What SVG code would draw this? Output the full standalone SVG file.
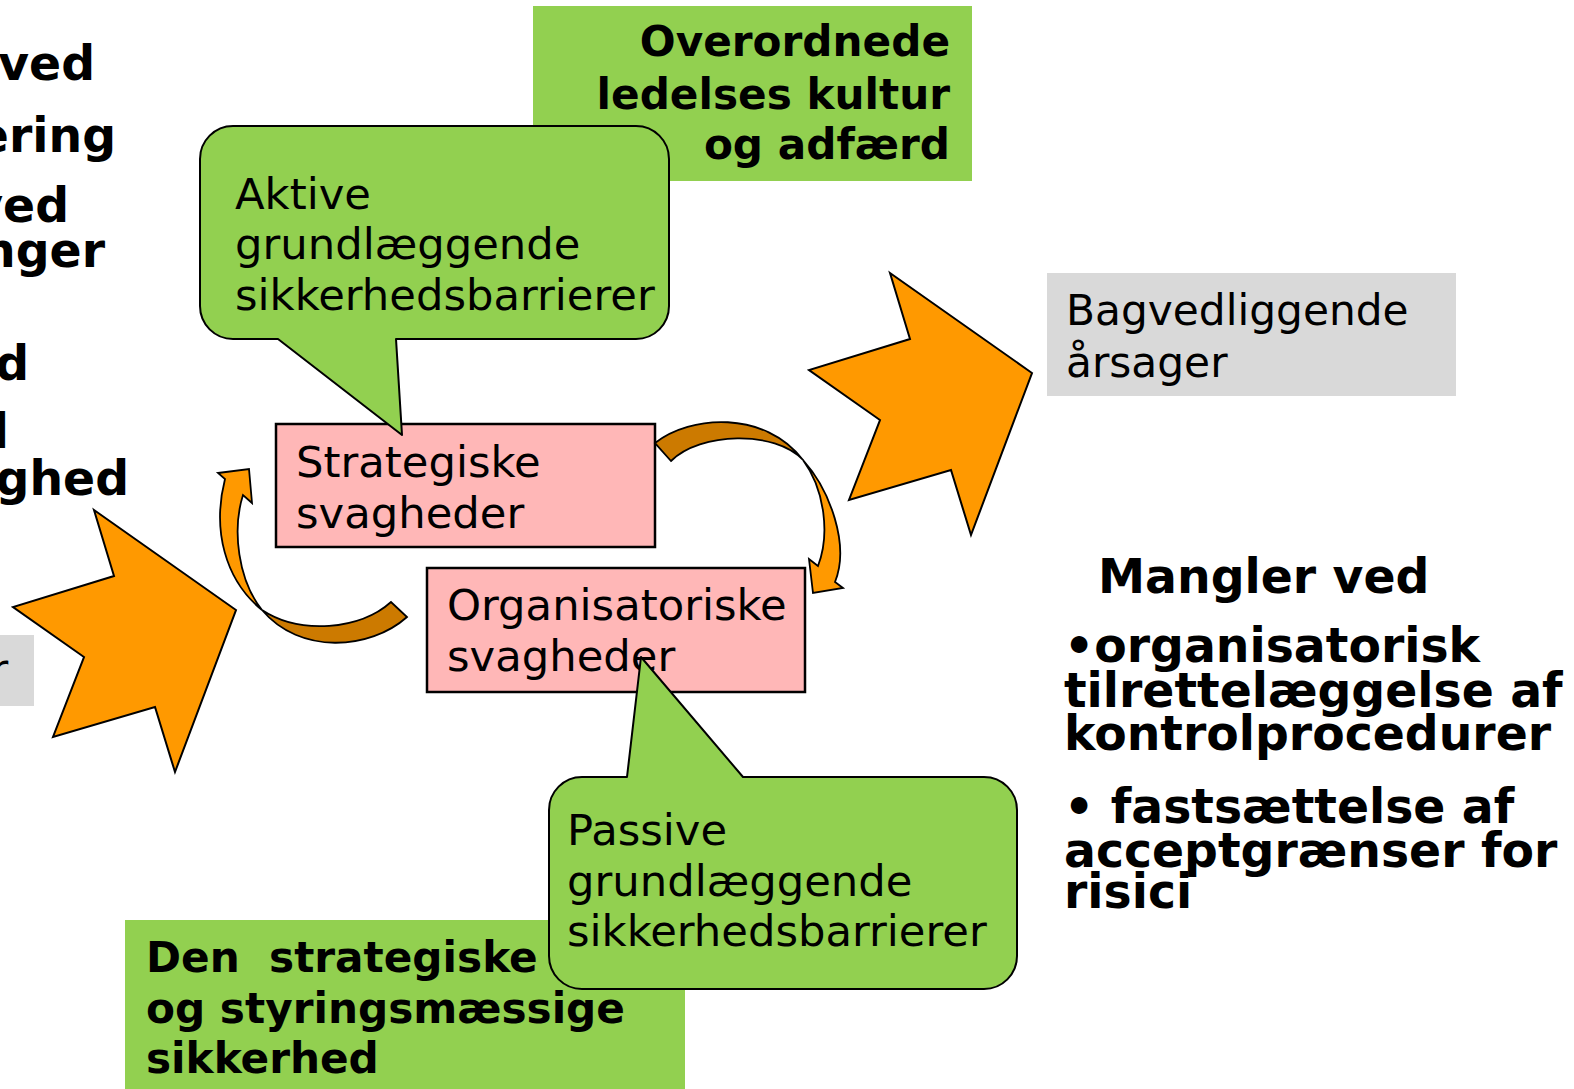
<svg xmlns="http://www.w3.org/2000/svg" width="1574" height="1089" viewBox="0 0 1574 1089">
  <style>
    text { font-family: "DejaVu Sans", Verdana, sans-serif; fill: #000; }
    .reg { font-size: 43.3px; }
    .bold { font-size: 42.2px; font-weight: bold; }
    .side { font-size: 47.3px; font-weight: bold; }
    .green { fill: #92D050; }
    .grey { fill: #D9D9D9; }
    .callout { fill: #92D050; stroke: #000; stroke-width: 2; stroke-linejoin: round; }
    .weak { fill: #FFB7B7; stroke: #000; stroke-width: 2.5; }
    .star { fill: #FF9900; stroke: #000; stroke-width: 2; stroke-linejoin: miter; }
    .bend-front { fill: #FF9900; stroke: #000; stroke-width: 1.8; stroke-linejoin: miter; }
    .bend-back { fill: #CC7A00; stroke: #000; stroke-width: 1.8; stroke-linejoin: miter; }
  </style>
  <defs>
    <!-- jagged block arrow, top corner at origin, pointing down-right -->
    <polygon id="burst" points="0,0 142,100 81,262 61,197 -41,227 -10,147 -81,97 20,66"/>
  </defs>

  <rect width="1574" height="1089" fill="#fff"/>

  <!-- text running off the left edge -->
  <g id="left-text" class="side" text-anchor="end">
    <text x="95" y="80" class="side">ved</text>
    <text x="116" y="152" class="side">ering</text>
    <text x="69" y="222" class="side">ved</text>
    <text x="105" y="267" class="side">nger</text>
    <text x="29" y="380" class="side">d</text>
    <text x="9" y="448" class="side">l</text>
    <text x="129" y="495" class="side">ghed</text>
  </g>

  <g id="left-causes">
    <rect class="grey" x="-2" y="635" width="36" height="71"/>
    <text x="-9" y="684" style="font-size:42px">r</text>
  </g>

  <g id="culture">
    <rect class="green" x="533" y="6" width="439" height="175"/>
    <g class="bold" text-anchor="end">
      <text x="950" y="56" class="bold">Overordnede</text>
      <text x="950" y="109" class="bold">ledelses kultur</text>
      <text x="950" y="159" class="bold">og adfærd</text>
    </g>
  </g>

  <g id="strategic-security">
    <rect class="green" x="125" y="920" width="560" height="175"/>
    <text x="146" y="972" class="bold" xml:space="preserve" style="white-space:pre">Den  strategiske</text>
    <text x="146" y="1023" class="bold">og styringsmæssige</text>
    <text x="146" y="1073" class="bold">sikkerhed</text>
  </g>

  <g id="strategic-weakness">
    <rect class="weak" x="276" y="424" width="379" height="123"/>
    <text x="296" y="477" class="reg">Strategiske</text>
    <text x="296" y="528" class="reg">svagheder</text>
  </g>

  <g id="org-weakness">
    <rect class="weak" x="427" y="568" width="378" height="124"/>
    <text x="447" y="620" class="reg">Organisatoriske</text>
    <text x="447" y="671" class="reg">svagheder</text>
  </g>

  <g id="active-barriers">
    <path class="callout" d="M233,126 H636 A33,33 0 0 1 669,159 V306 A33,33 0 0 1 636,339 H396 L402,435 L278,339 H233 A33,33 0 0 1 200,306 V159 A33,33 0 0 1 233,126 Z"/>
    <text x="235" y="209" class="reg">Aktive</text>
    <text x="235" y="259" class="reg">grundlæggende</text>
    <text x="235" y="310" class="reg">sikkerhedsbarrierer</text>
  </g>

  <g id="passive-barriers">
    <path class="callout" d="M582,777 H627 L641,657 L743,777 H984 A33,33 0 0 1 1017,810 V956 A33,33 0 0 1 984,989 H582 A33,33 0 0 1 549,956 V810 A33,33 0 0 1 582,777 Z"/>
    <text x="567" y="845" class="reg">Passive</text>
    <text x="567" y="896" class="reg">grundlæggende</text>
    <text x="567" y="946" class="reg">sikkerhedsbarrierer</text>
  </g>

  <g id="underlying-causes">
    <rect class="grey" x="1047" y="273" width="409" height="123"/>
    <text x="1066" y="325" style="font-size:42.3px">Bagvedliggende</text>
    <text x="1066" y="377" style="font-size:42.3px">årsager</text>
  </g>

  <g id="shortcomings">
    <text x="1098" y="593" class="side">Mangler ved</text>
    <text x="1064" y="662" class="side">•organisatorisk</text>
    <text x="1064" y="707" class="side">tilrettelæggelse af</text>
    <text x="1064" y="750" class="side">kontrolprocedurer</text>
    <text x="1064" y="823" class="side">• fastsættelse af</text>
    <text x="1064" y="867" class="side">acceptgrænser for</text>
    <text x="1064" y="908" class="side">risici</text>
  </g>

  <g id="connectors">
    <use href="#burst" class="star" transform="translate(94,510)"/>
    <use href="#burst" class="star" transform="translate(890,273)"/>

    <!-- strategic -> organisational (clockwise, over the top) -->
    <g id="loop-right">
      <path class="bend-back" d="M655,443 C690,415 765,410 803,460 C775,430 700,432 671,461 Z"/>
      <path class="bend-front" d="M803,460 C830,490 850,545 835,582 L843,588 L813,593 L809,559 L818,566 C830,535 825,490 803,460 Z"/>
    </g>
    <!-- organisational -> strategic (clockwise, underneath) -->
    <g id="loop-left">
      <path class="bend-back" d="M391,602 C360,630 300,635 262,610 C300,655 370,650 407,617 Z"/>
      <path class="bend-front" d="M262,610 C225,580 212,530 225,479 L218,473 L249,469 L252,503 L243,495 C232,530 238,580 262,610 Z"/>
    </g>
  </g>
</svg>
